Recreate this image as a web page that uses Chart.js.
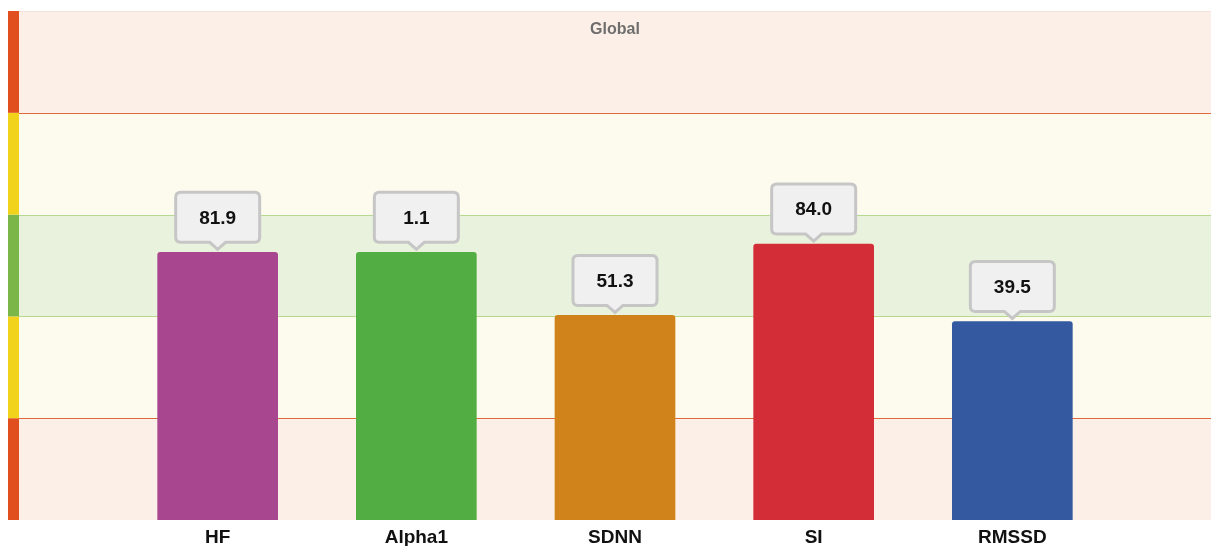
<!DOCTYPE html>
<html>
<head>
<meta charset="utf-8">
<script src="https://cdn.jsdelivr.net/npm/chart.js@4"></script>
<style>
  html, body { margin: 0; padding: 0; background: #fff; }
  #wrap { width: 1213px; height: 546px; }
</style>
</head>
<body>
<div id="wrap"><canvas id="grafico"></canvas></div>
<script>
// dados
const categorias = ["", "HF", "Alpha1", "SDNN", "SI", "RMSSD", ""];
const alturas = [null, 2.63, 2.63, 2.01, 2.71, 1.95, null];
const valores = ["", "81.9", "1.1", "51.3", "84.0", "39.5", ""];
const coresBarras = ["#fff", "#a8468f", "#52ad42", "#d1831b", "#d32d37", "#3459a0", "#fff"];
const faixas = [0, 1, 2, 3, 4, 5];
const coresFaixas = ["#fcefe7", "#fdfaee", "#e9f2dc", "#fdfaee", "#fcefe7"];
const coresLateral = ["#e14f1f", "#f1d31c", "#7bb649", "#f1d31c", "#e14f1f"];
const linhas = [
  { v: 1, cor: "#e06a3c" }, { v: 2, cor: "#b7d98f" },
  { v: 3, cor: "#b7d98f" }, { v: 4, cor: "#e06a3c" }
];

const fonte = '"Helvetica Neue", Arial, "Liberation Sans", sans-serif';

// fundo com as faixas
const pluginFaixas = {
  id: "faixas",
  beforeDraw(chart) {
    const ctx = chart.ctx;
    const area = chart.chartArea;
    const y = chart.scales.y;
    ctx.save();
    for (let i = 0; i < faixas.length - 1; i++) {
      const y0 = y.getPixelForValue(faixas[i]);
      const y1 = y.getPixelForValue(faixas[i + 1]);
      ctx.fillStyle = coresFaixas[i];
      ctx.fillRect(area.left, y1, area.right - area.left, y0 - y1);
      ctx.fillStyle = coresLateral[i];
      ctx.fillRect(area.left - 11, y1, 11, y0 - y1);
    }
    linhas.forEach(l => {
      const py = Math.round(y.getPixelForValue(l.v)) + 0.5;
      ctx.strokeStyle = l.cor;
      ctx.lineWidth = 1;
      ctx.beginPath();
      ctx.moveTo(area.left, py);
      ctx.lineTo(area.right, py);
      ctx.stroke();
    });
    ctx.strokeStyle = "#f3e2da";
    ctx.beginPath();
    ctx.moveTo(area.left, area.top + 0.5);
    ctx.lineTo(area.right, area.top + 0.5);
    ctx.stroke();
    // titulo
    ctx.fillStyle = "#6e6e6e";
    ctx.font = "bold 16px " + fonte;
    ctx.textAlign = "center";
    ctx.textBaseline = "middle";
    ctx.fillText("Global", 615, 30);
    ctx.restore();
  }
};

// balões com os valores
const pluginBaloes = {
  id: "baloes",
  afterDatasetsDraw(chart) {
    const ctx = chart.ctx;
    const meta = chart.getDatasetMeta(0);
    ctx.save();
    meta.data.forEach((bar, i) => {
      if (alturas[i] == null) return;
      const cx = bar.x;
      const base = bar.y - 3;
      const w = 84, h = 50, r = 5, seta = 7;
      const bottom = base - seta;
      const top = bottom - h;
      const left = cx - w / 2, right = cx + w / 2;
      ctx.beginPath();
      ctx.moveTo(left + r, top);
      ctx.lineTo(right - r, top);
      ctx.quadraticCurveTo(right, top, right, top + r);
      ctx.lineTo(right, bottom - r);
      ctx.quadraticCurveTo(right, bottom, right - r, bottom);
      ctx.lineTo(cx + 8, bottom);
      ctx.lineTo(cx, base);
      ctx.lineTo(cx - 8, bottom);
      ctx.lineTo(left + r, bottom);
      ctx.quadraticCurveTo(left, bottom, left, bottom - r);
      ctx.lineTo(left, top + r);
      ctx.quadraticCurveTo(left, top, left + r, top);
      ctx.closePath();
      ctx.fillStyle = "#f0f0f0";
      ctx.fill();
      ctx.strokeStyle = "#c6c6c6";
      ctx.lineWidth = 3;
      ctx.stroke();
      ctx.fillStyle = "#111";
      ctx.font = "bold 19px " + fonte;
      ctx.textAlign = "center";
      ctx.textBaseline = "middle";
      ctx.fillText(valores[i], cx, top + h / 2 + 1);
    });
    ctx.restore();
  }
};

const grafico = document.getElementById("grafico").getContext("2d");
new Chart(grafico, {
  type: "bar",
  data: {
    labels: categorias,
    datasets: [{
      data: alturas,
      backgroundColor: coresBarras,
      borderRadius: { topLeft: 3, topRight: 3 },
      borderSkipped: "bottom",
      barThickness: 120
    }]
  },
  options: {
    responsive: true,
    maintainAspectRatio: false,
    animation: false,
    layout: { padding: { left: 19, right: 2, top: 11, bottom: 0 } },
    plugins: {
      legend: { display: false },
      tooltip: { enabled: false },
      title: { display: false }
    },
    scales: {
      x: {
        offset: false,
        grid: { display: false, drawTicks: false },
        border: { display: false },
        ticks: {
          color: "#111",
          font: { family: fonte, size: 19, weight: "bold" },
          padding: 6,
          maxRotation: 0,
          autoSkip: false
        },
        afterFit(scale) {
          scale.height = 26;
          scale.paddingLeft = 0;
          scale.paddingRight = 0;
        }
      },
      y: {
        display: false,
        min: 0,
        max: 5
      }
    }
  },
  plugins: [pluginFaixas, pluginBaloes]
});
</script>
</body>
</html>
